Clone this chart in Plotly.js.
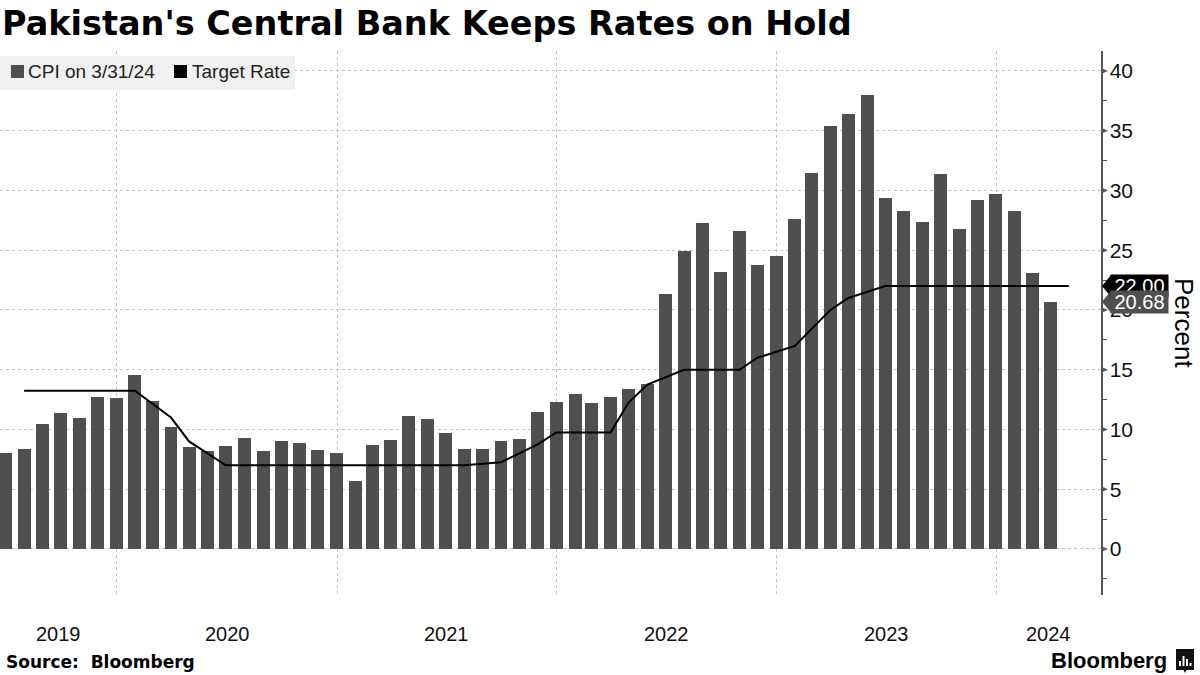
<!DOCTYPE html>
<html>
<head>
<meta charset="utf-8">
<script src="https://cdn.plot.ly/plotly-3.0.1.min.js"></script>
<style>html,body{margin:0;padding:0;background:#fff;}#chart{width:1200px;height:675px;}</style>
</head>
<body>
<div id="chart"></div>
<script>
// ---- data ----
const cpiDates = [
  '2019-06-30','2019-07-31','2019-08-31','2019-09-30','2019-10-31','2019-11-30','2019-12-31',
  '2020-01-31','2020-02-29','2020-03-31','2020-04-30','2020-05-31','2020-06-30','2020-07-31','2020-08-31','2020-09-30','2020-10-31','2020-11-30','2020-12-31',
  '2021-01-31','2021-02-28','2021-03-31','2021-04-30','2021-05-31','2021-06-30','2021-07-31','2021-08-31','2021-09-30','2021-10-31','2021-11-30','2021-12-31',
  '2022-01-31','2022-02-28','2022-03-31','2022-04-30','2022-05-31','2022-06-30','2022-07-31','2022-08-31','2022-09-30','2022-10-31','2022-11-30','2022-12-31',
  '2023-01-31','2023-02-28','2023-03-31','2023-04-30','2023-05-31','2023-06-30','2023-07-31','2023-08-31','2023-09-30','2023-10-31','2023-11-30','2023-12-31',
  '2024-01-31','2024-02-29','2024-03-31'
];
const cpiValues = [
  8.0, 8.4, 10.5, 11.4, 11.0, 12.7, 12.6,
  14.6, 12.4, 10.2, 8.5, 8.2, 8.6, 9.3, 8.2, 9.0, 8.9, 8.3, 8.0,
  5.7, 8.7, 9.1, 11.1, 10.9, 9.7, 8.4, 8.4, 9.0, 9.2, 11.5, 12.3,
  13.0, 12.2, 12.7, 13.4, 13.8, 21.3, 24.9, 27.3, 23.2, 26.6, 23.8, 24.5,
  27.6, 31.5, 35.4, 36.4, 38.0, 29.4, 28.3, 27.4, 31.4, 26.8, 29.2, 29.7,
  28.3, 23.1, 20.68
];
const rateDates = [
  '2019-07-31','2020-01-31','2020-03-31','2020-04-30','2020-06-30',
  '2021-07-31','2021-09-30','2021-11-30','2021-12-31',
  '2022-03-31','2022-04-30','2022-05-31','2022-07-31','2022-10-31','2022-11-30',
  '2023-01-31','2023-03-31','2023-04-30','2023-06-30','2024-04-30'
];
const rateValues = [
  13.25, 13.25, 11.0, 9.0, 7.0,
  7.0, 7.25, 8.75, 9.75,
  9.75, 12.25, 13.75, 15.0, 15.0, 16.0,
  17.0, 20.0, 21.0, 22.0, 22.0
];
const yearGridDates = ['2020-01-01','2021-01-01','2022-01-01','2023-01-01','2024-01-01'];
const yearLabels = ['2019','2020','2021','2022','2023','2024'];
const yearLabelDates = ['2019-09-26','2020-07-02','2021-07-02','2022-07-02','2023-07-02','2024-03-27'];
const yTicks = [0,5,10,15,20,25,30,35,40];
const lastCpiLabel = '20.68';
const lastRateLabel = '22.00';
const lastCpi = 20.68;
const lastRate = 22.0;

// ---- geometry helpers (plot area in px) ----
const PL = 0, PR = 1101, PT = 51, PB = 595;
const px2x = p => (p - PL) / (PR - PL);
const py2y = p => (PB - p) / (PB - PT);

const BAR = '#4f4f4f';
const FONT = 'Liberation Sans, Arial, sans-serif';

const traces = [
  {
    type: 'bar', x: cpiDates, y: cpiValues,
    marker: {color: BAR, line: {width: 0}},
    width: 21.5 * 86400000,
    hoverinfo: 'skip', showlegend: false
  },
  {
    type: 'scatter', mode: 'lines', x: rateDates, y: rateValues,
    line: {color: '#000', width: 2},
    hoverinfo: 'skip', showlegend: false
  }
];

const shapes = [];
const annotations = [];

// axis tick triangles
yTicks.forEach(v => {
  shapes.push({
    type: 'path', xref: 'paper', yref: 'y', xsizemode: 'pixel', ysizemode: 'pixel',
    xanchor: 1, yanchor: v, path: 'M0,3 L7,0 L0,-3 Z',
    fillcolor: '#555', line: {width: 0}, layer: 'above'
  });
});

// last value labels (tips)
function tip(v, color) {
  shapes.push({
    type: 'path', xref: 'paper', yref: 'y', xsizemode: 'pixel', ysizemode: 'pixel',
    xanchor: 1, yanchor: v, path: 'M1,0 L10,11 L10,-11 Z',
    fillcolor: color, line: {width: 0}, layer: 'above'
  });
}
tip(lastRate, '#000');
tip(lastCpi, BAR);
annotations.push({
  xref: 'paper', yref: 'y', x: px2x(1110), y: lastRate, xanchor: 'left', yanchor: 'middle',
  text: lastRateLabel, showarrow: false, bgcolor: '#000', width: 57, height: 22, borderpad: 0,
  align: 'center', font: {family: FONT, size: 20, color: '#fff'}
});
annotations.push({
  xref: 'paper', yref: 'y', x: px2x(1110), y: lastCpi, xanchor: 'left', yanchor: 'middle',
  text: lastCpiLabel, showarrow: false, bgcolor: BAR, width: 57, height: 22, borderpad: 0,
  align: 'center', font: {family: FONT, size: 20, color: '#fff'}
});

// y axis title
annotations.push({
  xref: 'paper', yref: 'paper', x: px2x(1184), y: 0.5, xanchor: 'center', yanchor: 'middle',
  text: 'Percent', textangle: 90, showarrow: false,
  font: {family: FONT, size: 26, color: '#000'}
});

// year labels
yearLabels.forEach((t, i) => {
  annotations.push({
    xref: 'x', yref: 'paper', x: yearLabelDates[i], y: py2y(634), xanchor: 'center', yanchor: 'middle',
    text: t, showarrow: false, font: {family: FONT, size: 20, color: '#111'}
  });
});

// legend
shapes.push({type: 'rect', xref: 'paper', yref: 'paper', x0: px2x(0), x1: px2x(295), y0: py2y(90), y1: py2y(56),
  fillcolor: '#f0f0f0', line: {width: 0}, layer: 'above'});
shapes.push({type: 'rect', xref: 'paper', yref: 'paper', x0: px2x(11), x1: px2x(24), y0: py2y(78), y1: py2y(65),
  fillcolor: BAR, line: {width: 0}, layer: 'above'});
shapes.push({type: 'rect', xref: 'paper', yref: 'paper', x0: px2x(174), x1: px2x(187), y0: py2y(78), y1: py2y(65),
  fillcolor: '#000', line: {width: 0}, layer: 'above'});
annotations.push({xref: 'paper', yref: 'paper', x: px2x(26), y: py2y(72), xanchor: 'left', yanchor: 'middle',
  text: 'CPI on 3/31/24', showarrow: false, font: {family: FONT, size: 19, color: '#222'}});
annotations.push({xref: 'paper', yref: 'paper', x: px2x(190), y: py2y(72), xanchor: 'left', yanchor: 'middle',
  text: 'Target Rate', showarrow: false, font: {family: FONT, size: 19, color: '#222'}});

// footer
annotations.push({xref: 'paper', yref: 'paper', x: px2x(4), y: py2y(662), xanchor: 'left', yanchor: 'middle',
  text: '<b>Source:  Bloomberg</b>', showarrow: false, font: {family: 'DejaVu Sans, sans-serif', size: 17, color: '#000'}});
annotations.push({xref: 'paper', yref: 'paper', x: px2x(1169), y: py2y(660), xanchor: 'right', yanchor: 'middle',
  text: '<b>Bloomberg</b>', showarrow: false, font: {family: FONT, size: 22, color: '#000'}});
// logo icon
shapes.push({type: 'rect', xref: 'paper', yref: 'paper', x0: px2x(1176), x1: px2x(1194), y0: py2y(670), y1: py2y(649),
  fillcolor: '#111', line: {width: 0}, layer: 'above'});
shapes.push({type: 'path', xref: 'paper', yref: 'paper',
  path: 'M' + px2x(1183) + ',' + py2y(669) + ' L' + px2x(1187) + ',' + py2y(669) + ' L' + px2x(1185) + ',' + py2y(673) + ' Z',
  fillcolor: '#111', line: {width: 0}, layer: 'above'});
[[1179,1181,661],[1182.5,1184.5,656],[1186,1188,659],[1189.5,1191.5,663]].forEach(b => {
  shapes.push({type: 'rect', xref: 'paper', yref: 'paper', x0: px2x(b[0]), x1: px2x(b[1]), y0: py2y(666), y1: py2y(b[2]),
    fillcolor: '#fff', line: {width: 0}, layer: 'above'});
});

const layout = {
  width: 1200, height: 675,
  margin: {l: PL, r: 1200 - PR, t: PT, b: 675 - PB, pad: 0},
  paper_bgcolor: '#fff', plot_bgcolor: '#fff',
  title: {
    text: "<b>Pakistan's Central Bank Keeps Rates on Hold</b>",
    font: {family: 'DejaVu Sans, sans-serif', size: 33.5, color: '#000'},
    xref: 'container', yref: 'container', x: 2 / 1200, xanchor: 'left',
    y: 1 - 23 / 675, yanchor: 'middle'
  },
  showlegend: false,
  bargap: 0,
  xaxis: {
    type: 'date', range: ['2019-06-21', '2024-06-22 12:00'],
    tickmode: 'array', tickvals: yearGridDates, showticklabels: false, ticks: '',
    showgrid: true, gridcolor: '#c4c4c4', griddash: 'dot', gridwidth: 1,
    zeroline: false, showline: false, fixedrange: true
  },
  yaxis: {
    side: 'right', range: [-3.85, 41.67],
    tickmode: 'array', tickvals: yTicks, ticktext: yTicks.map(String),
    showgrid: true, gridcolor: '#c4c4c4', griddash: 'dot', gridwidth: 1,
    zeroline: false, showline: true, linecolor: '#555', linewidth: 1.5,
    ticks: 'outside', ticklen: 3, tickcolor: 'rgba(0,0,0,0)',
    tickfont: {family: FONT, size: 21, color: '#111'},
    minor: {tickmode: 'array', tickvals: [-2.5].concat(yTicks.map(v => v + 2.5)), ticks: 'outside', ticklen: 4, tickcolor: '#555', tickwidth: 1, showgrid: false},
    fixedrange: true
  },
  shapes: shapes,
  annotations: annotations
};

Plotly.newPlot('chart', traces, layout, {displayModeBar: false, staticPlot: true});
</script>
</body>
</html>
